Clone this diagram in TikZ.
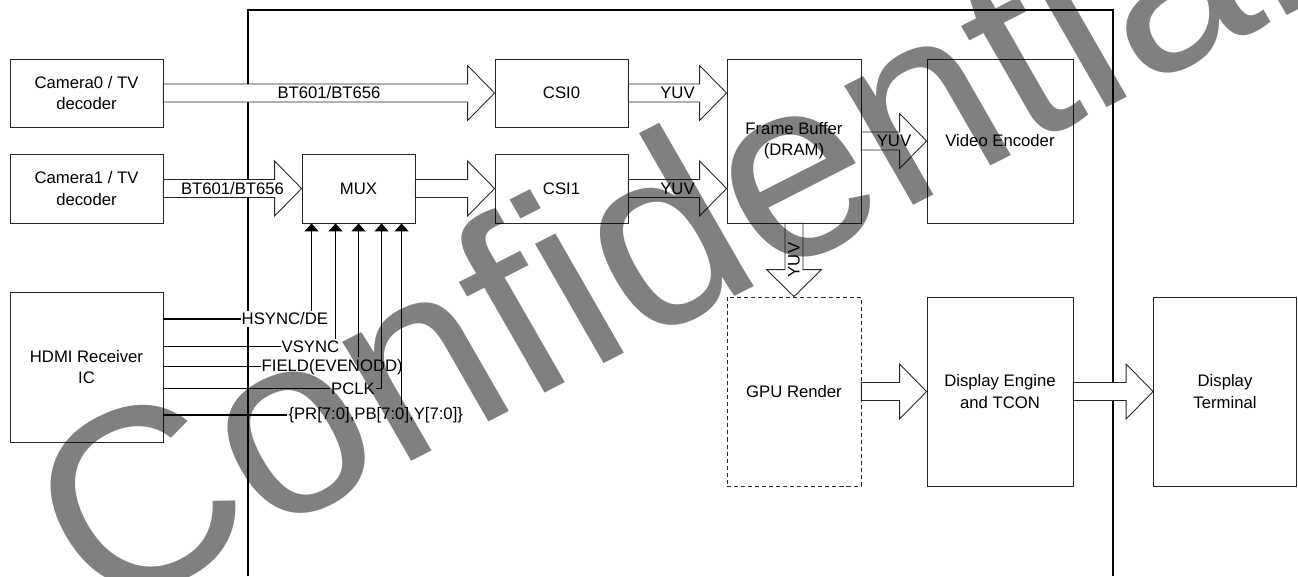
\documentclass[tikz,border=0pt]{standalone}
\usepackage{fontspec}
\setmainfont{Liberation Sans}
\usetikzlibrary{calc,arrows.meta}

\tikzset{
  blk/.style={draw=black!85, line width=0.5pt, align=center, inner sep=0pt,
    font=\fontsize{9.5}{12}\selectfont},
  sig/.style={line width=0.8pt, -{Triangle[length=0.16cm,width=0.28cm]}},
  siglbl/.style={fill=white, anchor=west, inner xsep=0.5pt, inner ysep=1pt,
    font=\fontsize{9.5}{12}\selectfont},
  fat/.style={draw=black!85, fill=white, line width=0.5pt},
  fatlbl/.style={inner sep=0pt, font=\fontsize{9.5}{12}\selectfont},
  wmark/.style={text=black!50, inner sep=0pt, blend mode=multiply,
    font=\fontsize{148}{148}\selectfont}
}

% hollow arrow between two nodes (same height), label in the middle
\newcommand{\fatarrow}[3]{%
  \draw[fat] let \p1=(#1), \p2=(#2) in
    (\x1,\y1+0.18cm) -- (\x2-0.54cm,\y1+0.18cm) -- (\x2-0.54cm,\y1+0.55cm)
    -- (\x2,\y1) -- (\x2-0.54cm,\y1-0.55cm) -- (\x2-0.54cm,\y1-0.18cm)
    -- (\x1,\y1-0.18cm) -- cycle;
  \path (#1) -- (#2) node[midway,fatlbl] {#3};}

\begin{document}
\begin{tikzpicture}[x=0.02cm,y=-0.02cm]

\useasboundingbox (0,0) rectangle (1298,576);

% Chip border
\draw[line width=1pt] (248,576) -- (248,10) -- (1113,10) -- (1113,576);

% Blocks
\node[blk, minimum width=3.06cm, minimum height=1.36cm] (cam0) at (86.5,93) {Camera0 / TV\\decoder};
\node[blk, minimum width=3.06cm, minimum height=1.38cm] (cam1) at (86.5,188.5) {Camera1 / TV\\decoder};
\node[blk, minimum width=3.06cm, minimum height=3.00cm] (hdmi) at (86.5,367) {HDMI Receiver\\IC};
\node[blk, minimum width=2.26cm, minimum height=1.38cm] (mux) at (358.5,188.5) {MUX};
\node[blk, minimum width=2.66cm, minimum height=1.36cm] (csi0) at (561.5,93) {CSI0};
\node[blk, minimum width=2.66cm, minimum height=1.38cm] (csi1) at (561.5,188.5) {CSI1};
\node[blk, minimum width=2.68cm, minimum height=3.28cm] (fb) at (794,141) {Frame Buffer\\(DRAM)};
\node[blk, minimum width=2.92cm, minimum height=3.28cm] (venc) at (1000,141) {Video Encoder};
\node[blk, dash pattern=on 2.3pt off 1.7pt, minimum width=2.68cm, minimum height=3.78cm] (gpu) at (794,391.5) {GPU Render};
\node[blk, minimum width=2.92cm, minimum height=3.78cm] (de) at (1000,391.5) {Display Engine\\and TCON};
\node[blk, minimum width=2.86cm, minimum height=3.78cm] (term) at (1225,391.5) {Display\\Terminal};

% Data paths
\fatarrow{cam0.east}{csi0.west}{BT601/BT656}
\fatarrow{cam1.east}{mux.west}{BT601/BT656}
\fatarrow{mux.east}{csi1.west}{}
\fatarrow{csi0.east}{fb.west |- csi0.east}{YUV}
\fatarrow{csi1.east}{fb.west |- csi1.east}{YUV}
\fatarrow{fb.east}{venc.west}{YUV}
\fatarrow{gpu.east}{de.west}{}
\fatarrow{de.east}{term.west}{}

\draw[fat] let \p1=(fb.south), \p2=(gpu.north) in
  (\x1-0.18cm,\y1) -- (\x1-0.18cm,\y2+0.54cm) -- (\x1-0.55cm,\y2+0.54cm)
  -- (\x1,\y2) -- (\x1+0.55cm,\y2+0.54cm) -- (\x1+0.18cm,\y2+0.54cm)
  -- (\x1+0.18cm,\y1) -- cycle;
\path (fb.south) -- (gpu.north) node[midway,fatlbl,rotate=90] {YUV};

% HDMI signals
\node[siglbl] (hs) at (240.5,319) {HSYNC/DE};
\node[siglbl] (vs) at (280.5,346.7) {VSYNC};
\node[siglbl] (fd) at (260.5,366.7) {FIELD(EVENODD)};
\node[siglbl] (pc) at (330,388.3) {PCLK};
\node[siglbl] (pix) at (287.3,415) {\{PR[7:0],PB[7:0],Y[7:0]\}};

\coordinate (m1) at ($(mux.south west)+(10,0)$);
\coordinate (m2) at ($(mux.south west)+(34,0)$);
\coordinate (m3) at ($(mux.south west)+(57,0)$);
\coordinate (m4) at ($(mux.south west)+(80,0)$);
\coordinate (m5) at ($(mux.south west)+(100,0)$);

\foreach \s in {hs,vs,fd,pc,pix}
  \draw[line width=0.8pt] (hdmi.east |- \s.west) -- (\s.west);

\draw[sig] (hs.north -| m1) -- (m1);
\draw[sig] (vs.north -| m2) -- (m2);
\draw[sig] (fd.north -| m3) -- (m3);
\draw[sig] (pc.east) -- (pc.east -| m4) -- (m4);
\draw[sig] (pix.north -| m5) -- (m5);

% Watermark
\node[wmark, rotate=27, xslant=-0.05] (conf) at (665,228) {Confidential};

\end{tikzpicture}
\end{document}
